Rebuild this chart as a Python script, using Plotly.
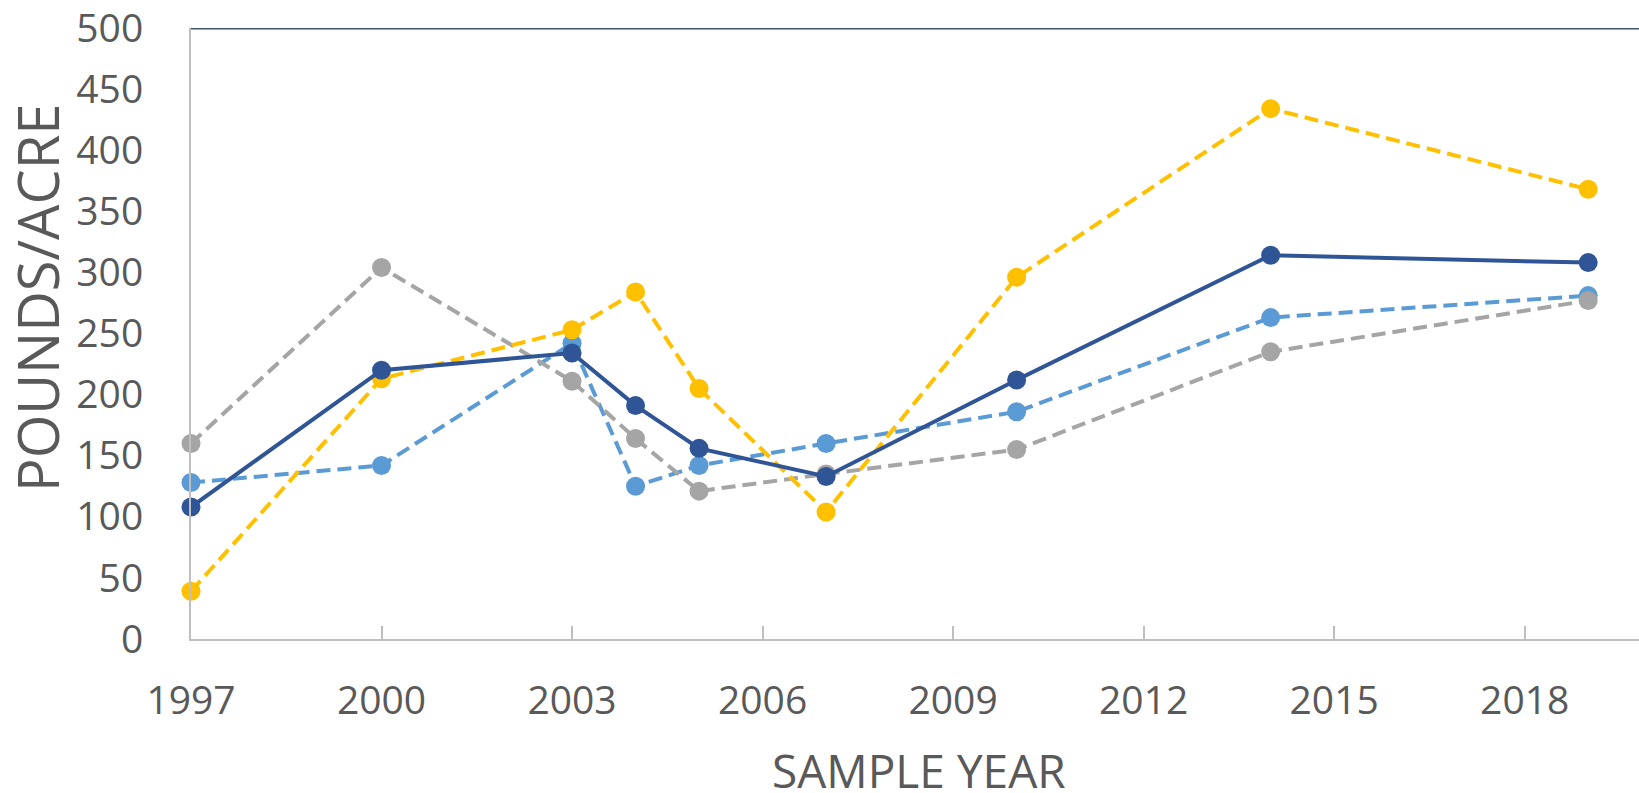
import plotly.graph_objects as go

years = [1997, 2000, 2003, 2004, 2005, 2007, 2010, 2014, 2019]
series_light_blue = [128, 142, 242, 125, 142, 160, 186, 263, 281]
series_gray = [160, 304, 211, 164, 121, 135, 155, 235, 277]
series_gold = [39, 213, 253, 284, 205, 104, 296, 434, 368]
series_dark_blue = [108, 220, 234, 191, 156, 133, 212, 314, 308]

x_ticks = [1997, 2000, 2003, 2006, 2009, 2012, 2015, 2018]
y_ticks = [0, 50, 100, 150, 200, 250, 300, 350, 400, 450, 500]

FONT = "Open Sans"
TXT = "#595959"

fig = go.Figure()

def add(vals, color, dash, width):
    fig.add_trace(go.Scatter(
        x=years, y=vals, mode="lines+markers",
        line=dict(color=color, width=width, dash=dash),
        marker=dict(color=color, size=19),
        cliponaxis=False, showlegend=False))

add(series_light_blue, "#5B9BD5", "14px,7px", 4)
add(series_gray, "#A5A5A5", "14px,7px", 4)
add(series_gold, "#FFC000", "14px,7px", 4)
add(series_dark_blue, "#2F5597", "solid", 4)

fig.add_shape(type="line", xref="paper", yref="y", x0=0, x1=1, y0=500, y1=500,
              line=dict(color="#44546A", width=3))

fig.update_layout(
    width=1639, height=793,
    margin=dict(l=191, r=0, t=24, b=154),
    paper_bgcolor="white", plot_bgcolor="white",
    font=dict(family=FONT, color=TXT, size=39),
    xaxis=dict(range=[1997, 2019.8], tickvals=x_ticks, ticktext=[str(v) for v in x_ticks],
               showgrid=False, zeroline=False, showline=True, linecolor="#BFBFBF", linewidth=2,
               ticks="inside", ticklen=13, tickwidth=2, tickcolor="#BFBFBF",
               tickfont=dict(size=39, color=TXT, family=FONT), ticklabelstandoff=26,
               ticklabeloverflow="allow"),
    yaxis=dict(range=[0, 500], tickvals=y_ticks, showgrid=False, zeroline=False,
               showline=True, linecolor="#BFBFBF", linewidth=2, ticks="",
               tickfont=dict(size=39, color=TXT, family=FONT), ticklabelstandoff=38,
               ticklabeloverflow="allow"),
    annotations=[
        dict(text="SAMPLE YEAR", xref="paper", yref="paper", x=0.503, y=0, yshift=-131,
             showarrow=False, font=dict(size=46, color=TXT, family=FONT), yanchor="middle"),
        dict(text="POUNDS/ACRE", xref="paper", yref="paper", x=0, xshift=-154, y=0.558,
             textangle=-90, showarrow=False, font=dict(size=56, color=TXT, family=FONT),
             xanchor="center"),
    ],
)

fig.write_html("out.html", config={"displayModeBar": False},
               post_script="document.body.style.margin='0';document.body.style.overflow='hidden';")
